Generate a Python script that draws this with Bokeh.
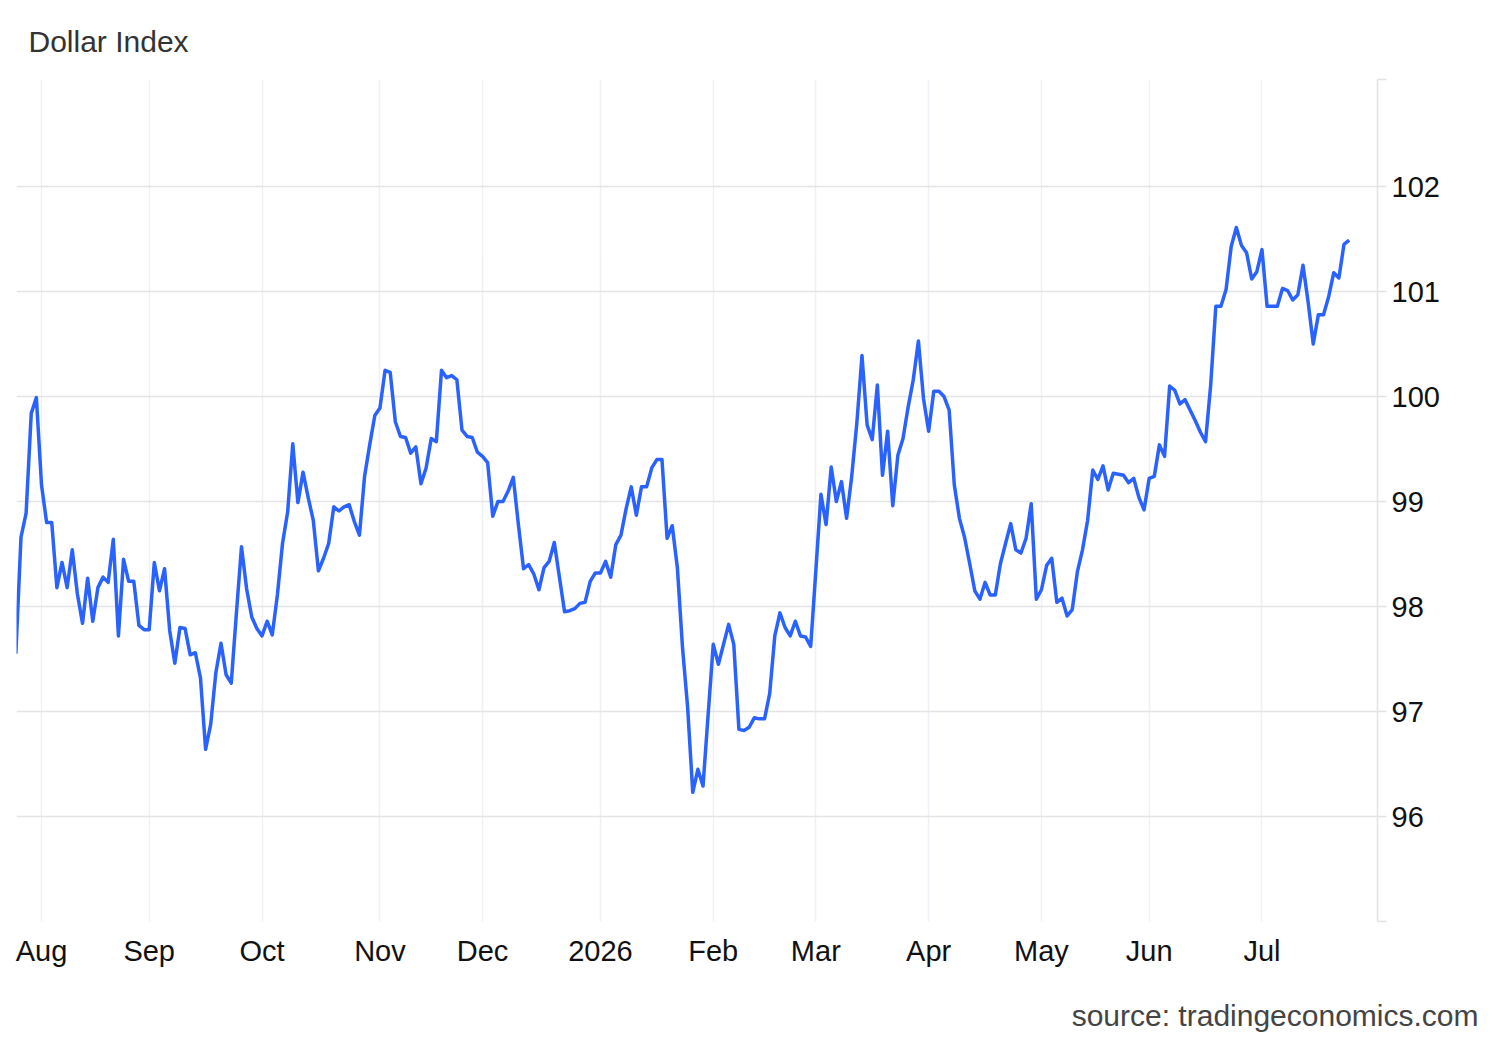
import pandas as pd
from bokeh.plotting import figure
from bokeh.models import FixedTicker, Range1d, Title, CustomJSTickFormatter
from bokeh.embed import file_html
from bokeh.resources import INLINE

# ---- data (one value per trading day, starting 2025-07-25) ----
start_date = "2025-07-25"
values = [
    97.55, 98.66, 98.89, 99.84, 99.99,
    99.16, 98.80, 98.80, 98.18, 98.42, 98.18, 98.54, 98.12, 97.84, 98.27,
    97.86, 98.18, 98.28, 98.23, 98.64, 97.72, 98.45, 98.24, 98.24, 97.82,
    97.78, 97.78, 98.42, 98.15, 98.36, 97.77, 97.46, 97.80, 97.79, 97.54,
    97.56, 97.32, 96.64, 96.88, 97.37, 97.65, 97.35, 97.27, 97.93, 98.57,
    98.17, 97.90, 97.79, 97.72, 97.86, 97.73, 98.11, 98.60, 98.90, 99.55,
    98.99, 99.28, 99.04, 98.82, 98.34, 98.46, 98.60, 98.95, 98.91, 98.95,
    98.97, 98.81, 98.68, 99.24, 99.54, 99.82, 99.89, 100.25, 100.23, 99.76,
    99.62, 99.61, 99.46, 99.52, 99.17, 99.32, 99.60, 99.57, 100.25, 100.18,
    100.20, 100.16, 99.68, 99.62, 99.61, 99.47, 99.43, 99.37, 98.86, 99.00,
    99.00, 99.10, 99.23, 98.78, 98.36, 98.40, 98.31, 98.16, 98.37, 98.43,
    98.61, 98.28, 97.95, 97.96, 97.98, 98.03, 98.04, 98.24, 98.32, 98.32,
    98.43, 98.28, 98.59, 98.68, 98.93, 99.14, 98.87, 99.14, 99.14, 99.32,
    99.40, 99.40, 98.65, 98.77, 98.37, 97.61, 97.04, 96.23, 96.45, 96.29,
    96.97, 97.64, 97.45, 97.64, 97.83, 97.64, 96.83, 96.82, 96.85, 96.94,
    96.93, 96.93, 97.17, 97.72, 97.94, 97.80, 97.72, 97.86, 97.72, 97.71,
    97.62, 98.34, 99.07, 98.78, 99.33, 99.00, 99.19, 98.84, 99.24, 99.75,
    100.39, 99.73, 99.59, 100.11, 99.25, 99.67, 98.96, 99.44, 99.60, 99.90,
    100.16, 100.53, 99.98, 99.67, 100.05, 100.05, 100.00, 99.87, 99.16, 98.84,
    98.66, 98.41, 98.15, 98.07, 98.23, 98.11, 98.11, 98.41, 98.60, 98.79,
    98.54, 98.51, 98.65, 98.98, 98.07, 98.16, 98.39, 98.46, 98.04, 98.08,
    97.91, 97.97, 98.33, 98.54, 98.82, 99.30, 99.21, 99.34, 99.11, 99.27,
    99.26, 99.25, 99.18, 99.22, 99.04, 98.92, 99.22, 99.24, 99.54, 99.43,
    100.10, 100.06, 99.93, 99.97, 99.87, 99.77, 99.66, 99.57, 100.11, 100.86,
    100.86, 101.02, 101.43, 101.61, 101.44, 101.37, 101.12, 101.19, 101.40, 100.86,
    100.86, 100.86, 101.03, 101.01, 100.92, 100.97, 101.25, 100.90, 100.50, 100.78,
    100.78, 100.95, 101.18, 101.13, 101.45, 101.49,
]
y_ticks = [95, 96, 97, 98, 99, 100, 101, 102]
y_min = 95
y_max = 103.02
title_text = "Dollar Index"
source_text = "source: tradingeconomics.com"

dates = pd.bdate_range(start_date, periods=len(values))
pos = list(range(len(values)))

month_ticks = []
month_labels = {}
for i in range(1, len(dates)):
    if dates[i].month != dates[i - 1].month:
        month_ticks.append(i)
        month_labels[i] = str(dates[i].year) if dates[i].month == 1 else dates[i].strftime("%b")

FONT = "Liberation Sans"
X0, X1 = 0.125, 265.53

p = figure(
    width=1492, height=1040,
    output_backend="svg", toolbar_location=None,
    x_range=Range1d(X0, X1), y_range=Range1d(y_min, y_max),
    y_axis_location="right",
    min_border_left=16, min_border_right=115, min_border_top=79, min_border_bottom=119,
)
p.outline_line_color = None
p.background_fill_color = "white"
p.border_fill_color = "white"

# x axis
xt = FixedTicker(ticks=month_ticks)
p.xaxis.ticker = xt
p.xaxis.major_label_overrides = month_labels
p.xaxis.axis_line_color = None
p.xaxis.major_tick_line_color = None
p.xaxis.minor_tick_line_color = None
p.xaxis.major_label_text_font = FONT
p.xaxis.major_label_text_font_size = "29px"
p.xaxis.major_label_text_color = "#111111"
p.xaxis.major_label_standoff = 7

# y axis (right)
yt = FixedTicker(ticks=y_ticks + [y_max])
p.yaxis.ticker = yt
p.yaxis.formatter = CustomJSTickFormatter(
    code="return (tick > 95.5 && tick < 102.5) ? tick.toFixed(0) : '';")
p.yaxis.axis_line_color = "#e3e3e3"
p.yaxis.axis_line_width = 1.5
p.yaxis.major_tick_line_color = "#e3e3e3"
p.yaxis.major_tick_line_width = 1.5
p.yaxis.major_tick_out = 9
p.yaxis.major_tick_in = 0
p.yaxis.minor_tick_line_color = None
p.yaxis.major_label_text_font = FONT
p.yaxis.major_label_text_font_size = "29px"
p.yaxis.major_label_text_color = "#111111"
p.yaxis.major_label_standoff = 5

# grids
p.xgrid.ticker = xt
p.xgrid.grid_line_color = "#edf0f4"
p.xgrid.grid_line_width = 1.5
p.ygrid.ticker = yt
p.ygrid.grid_line_color = "#e4e4e4"
p.ygrid.grid_line_width = 1.5

p.line(x=pos, y=values, line_width=3.5, line_color="#2962ff", line_join="round")

p.add_layout(Title(text=title_text, align="left", offset=12, standoff=43,
                   text_font=FONT, text_font_size="30px", text_font_style="normal",
                   text_color="#333333"), "above")

# empty spacer between the x axis and the source note
p.add_layout(Title(text=" ", align="right", standoff=-8,
                   text_font=FONT, text_font_size="30px"), "below")
p.add_layout(Title(text=source_text, align="right", offset=-101, standoff=0,
                   text_font=FONT, text_font_size="30px", text_font_style="normal",
                   text_color="#444444"), "below")

open("out.html", "w").write(file_html(p, INLINE))
